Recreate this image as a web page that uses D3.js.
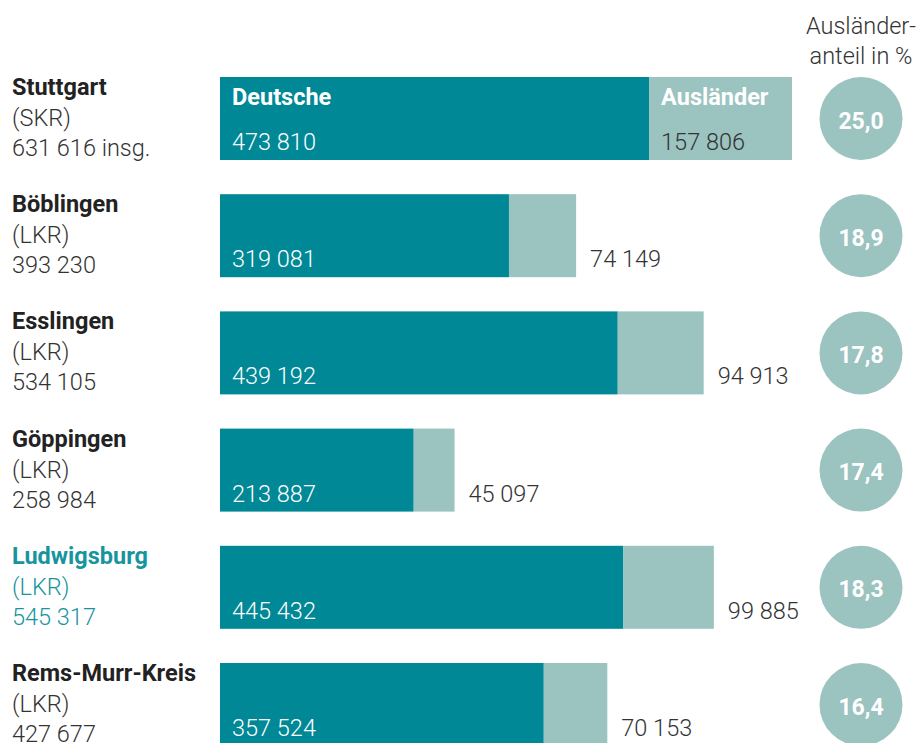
<!DOCTYPE html>
<html>
<head>
<meta charset="utf-8">
<script src="https://cdn.jsdelivr.net/npm/d3@7"></script>
<style>
  html, body { margin: 0; padding: 0; background: #fff; }
  svg { display: block; font-family: Roboto, "Noto Sans", sans-serif; }
</style>
</head>
<body>
<div id="chart"></div>
<script>
'use strict';

// data
var regions = ['Stuttgart', 'Böblingen', 'Esslingen', 'Göppingen', 'Ludwigsburg', 'Rems-Murr-Kreis'];
var kinds = ['(SKR)', '(LKR)', '(LKR)', '(LKR)', '(LKR)', '(LKR)'];
var totals = [631616, 393230, 534105, 258984, 545317, 427677];
var deutsche = [473810, 319081, 439192, 213887, 445432, 357524];
var auslaender = [157806, 74149, 94913, 45097, 99885, 70153];
var anteil = [25.0, 18.9, 17.8, 17.4, 18.3, 16.4];
var highlight = 'Ludwigsburg';

var width = 919, height = 743;
var dark = '#008896', light = '#9bc3c0', hiText = '#17949e', textCol = '#333';

var fmtInt = function(v) {
  return d3.format(',')(v).replace(/,/g, ' ');
};
var fmtPct = function(v) { return v.toFixed(1).replace('.', ','); };

var svg = d3.select('#chart').append('svg')
    .attr('width', width)
    .attr('height', height);

var x = d3.scaleLinear()
    .domain([0, 631616])
    .range([220, 792]);

// 83px bars, 117.2px step
var y = d3.scaleBand()
    .domain(regions)
    .range([77, 77 + 117.2 * 5 + 83])
    .paddingInner((117.2 - 83) / 117.2)
    .paddingOuter(0);

var rows = regions.map(function(r, i) {
  return { name: r, kind: kinds[i], total: totals[i], de: deutsche[i], au: auslaender[i], pct: anteil[i], i: i };
});

// header above circles
var header = svg.append('text')
    .attr('x', 861)
    .attr('text-anchor', 'middle')
    .style('font-size', '23.5px')
    .style('font-weight', 300)
    .attr('fill', textCol);
header.append('tspan').attr('x', 861).attr('y', 34).text('Ausländer-');
header.append('tspan').attr('x', 861).attr('y', 64).text('anteil in %');

var g = svg.selectAll('g.row')
    .data(rows)
    .enter().append('g')
    .attr('class', 'row')
    .attr('transform', function(d) { return 'translate(0,' + y(d.name) + ')'; });

var bh = y.bandwidth();

// left labels
var lab = g.append('text')
    .attr('fill', function(d) { return d.name === highlight ? hiText : textCol; })
    .style('font-size', '23.5px');
lab.append('tspan')
    .attr('x', 12).attr('y', 18)
    .style('font-weight', 700)
    .attr('fill', function(d) { return d.name === highlight ? hiText : '#222'; })
    .text(function(d) { return d.name; });
lab.append('tspan')
    .attr('x', 12).attr('y', 49)
    .style('font-weight', 300)
    .text(function(d) { return d.kind; });
lab.append('tspan')
    .attr('x', 12).attr('y', 79)
    .style('font-weight', 300)
    .text(function(d) { return fmtInt(d.total) + (d.i === 0 ? ' insg.' : ''); });

// bars
g.append('rect')
    .attr('x', x(0))
    .attr('y', 0)
    .attr('width', function(d) { return x(d.de) - x(0); })
    .attr('height', bh)
    .attr('fill', dark);
g.append('rect')
    .attr('x', function(d) { return x(d.de); })
    .attr('y', 0)
    .attr('width', function(d) { return x(d.de + d.au) - x(d.de); })
    .attr('height', bh)
    .attr('fill', light);

// values
g.append('text')
    .attr('x', x(0) + 12)
    .attr('y', bh - 10)
    .attr('fill', '#fff')
    .style('font-size', '23.5px')
    .style('font-weight', 300)
    .text(function(d) { return fmtInt(d.de); });
g.append('text')
    .attr('x', function(d) { return d.i === 0 ? x(d.de) + 12 : x(d.de + d.au) + 14; })
    .attr('y', bh - 10)
    .attr('fill', textCol)
    .style('font-size', '23.5px')
    .style('font-weight', 300)
    .text(function(d) { return fmtInt(d.au); });

// series labels in first bar
var first = g.filter(function(d) { return d.i === 0; });
first.append('text')
    .attr('x', x(0) + 12)
    .attr('y', 28)
    .attr('fill', '#fff')
    .style('font-size', '23.5px')
    .style('font-weight', 700)
    .text('Deutsche');
first.append('text')
    .attr('x', function(d) { return x(d.de) + 12; })
    .attr('y', 28)
    .attr('fill', '#fff')
    .style('font-size', '23.5px')
    .style('font-weight', 700)
    .text('Ausländer');

// circles
g.append('circle')
    .attr('cx', 861)
    .attr('cy', bh / 2)
    .attr('r', 41.5)
    .attr('fill', light);
g.append('text')
    .attr('x', 861)
    .attr('y', bh / 2 + 10)
    .attr('text-anchor', 'middle')
    .attr('fill', '#fff')
    .style('font-size', '23px')
    .style('font-weight', 700)
    .text(function(d) { return fmtPct(d.pct); });
</script>
</body>
</html>
